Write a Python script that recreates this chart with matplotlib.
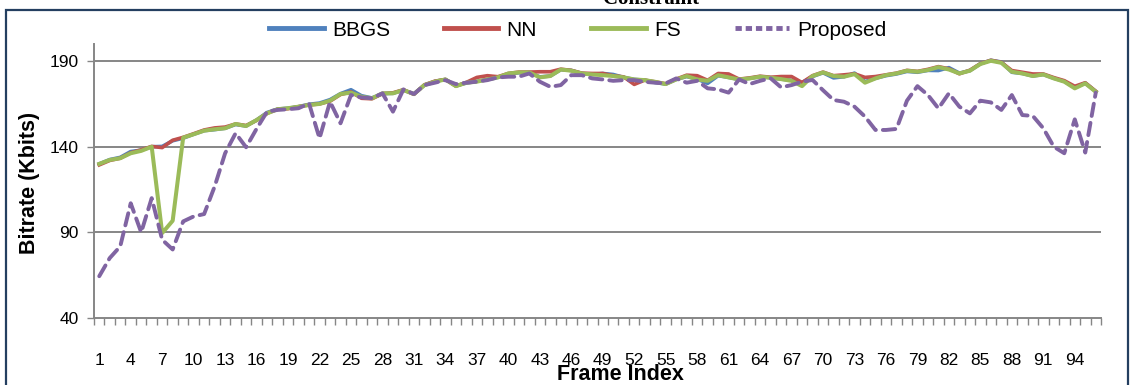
import matplotlib
matplotlib.use("Agg")
import matplotlib.pyplot as plt
from matplotlib.patches import Rectangle
from matplotlib.lines import Line2D
import numpy as np

frames = list(range(1, 97))

fs = [130, 132.3, 133.3, 136.2, 137.6, 140, 89.6, 96.8, 145.3, 147.3,
      149.4, 150.2, 150.8, 153.3, 152.1, 155.6, 159.5, 161.9, 162.5, 163.4,
      164.4, 165, 166.9, 170.8, 171.6, 169.2, 168.3, 171.2, 171.2, 173.1,
      170.8, 176, 178, 179.3, 175.4, 177.4, 178, 179.3, 180.5, 182.8,
      183.4, 183.4, 180.5, 181.3, 185.1, 184.4, 182.8, 182.2, 181.8, 181.3,
      180.5, 179.3, 178.9, 177.9, 176.6, 179.3, 181.3, 179.3, 178.5, 181.8,
      180.5, 179.3, 179.9, 180.9, 180.3, 179.5, 178.5, 175.4, 181.3, 183.4,
      181.3, 180.9, 182.4, 177.4, 179.9, 181.8, 182.8, 184.4, 183.8, 184.8,
      186.5, 185.1, 182.8, 184.4, 188.3, 190.2, 189, 183.8, 182.8, 181.3,
      182.2, 179.9, 178, 174.1, 177, 172.1]

bbgs = [130, 132.5, 133.8, 137.2, 138, 140, 140.2, 143.5, 145, 147.3,
        149.4, 150, 150.8, 153, 152.1, 155.6, 160, 162, 162.5, 163.4,
        164.8, 165.5, 167.5, 171, 173.3, 169.8, 168.5, 171, 171.2, 173.1,
        170.8, 176, 178.2, 179.3, 175.6, 177.2, 178.2, 179.3, 180.5, 182.5,
        183.2, 183.4, 180.8, 181.3, 185, 184.6, 182.8, 182.2, 182.8, 182.2,
        180.5, 179.3, 178.9, 177.5, 176.6, 179.3, 181, 179.5, 177, 181.5,
        180.5, 179.3, 179.9, 180.9, 180.3, 179.5, 178.8, 177.5, 181, 183.2,
        180.2, 180.9, 183, 178, 180, 181.5, 182.5, 184, 183.5, 184.6,
        184.5, 186.2, 183, 184.4, 188.5, 190.5, 189.5, 183.5, 182.8, 181.3,
        182.2, 180, 178.2, 174.5, 177.2, 172.3]

nn = [129.4, 132, 133.3, 136.5, 138.2, 140.2, 139.5, 143.8, 145.5, 147.6,
      149.8, 151, 151.5, 153.3, 152.4, 155.4, 159.5, 161.9, 162.2, 163.4,
      164.4, 165, 166.6, 170.5, 172, 168.3, 168, 171, 171.5, 173.3,
      170.6, 176.2, 178.3, 179.3, 175.4, 177.6, 180.5, 181.5, 180.9, 182.8,
      183.6, 183.6, 183.8, 183.8, 185.3, 184.6, 183, 182.8, 182.8, 181.5,
      180.8, 176.4, 178.9, 177.9, 176.8, 179.5, 181.8, 181.5, 178.8, 182.8,
      182.5, 179.5, 180.2, 181.2, 180.6, 181, 181, 177.5, 181.5, 183.6,
      181.5, 182, 182.6, 180.5, 181, 182, 183, 184.6, 184, 185.2,
      186.8, 185.5, 182.6, 184.7, 188.5, 190.5, 189.3, 184.5, 183.5, 182.5,
      182.5, 180.4, 178.6, 175.3, 177.4, 172.4]

proposed = [64.4, 75, 81.8, 107, 90, 110, 85.7, 80, 96.4, 99.3,
            100.7, 116.8, 136.2, 147.9, 139.7, 150.5, 160.5, 161.5, 161.9, 162.5,
            165.3, 144.9, 166.3, 153.7, 170.2, 168.8, 168.3, 171.2, 160.5, 173.5,
            170.8, 176, 177.4, 178.9, 176.6, 177.4, 178, 178.9, 180.5, 180.9,
            180.9, 182.8, 178, 175, 176, 181.8, 181.8, 179.9, 179.3, 178.5,
            178.9, 178.9, 177.9, 177.4, 177, 179.9, 177.4, 178.5, 174.1, 173.5,
            171.6, 179.3, 176.6, 178.5, 180, 174.7, 176, 178, 179, 173,
            167.3, 166.3, 163.4, 157.6, 149.8, 149.8, 150.4, 166.9, 175.4, 170.2,
            162.4, 171.2, 163.4, 159.5, 166.9, 165.9, 161.5, 170.2, 158.5, 158,
            150.8, 140, 136.2, 156, 136.6, 171.6]

series_names = ["BBGS", "NN", "FS", "Proposed"]
series_colors = ["#4F81BD", "#C0504D", "#9BBB59", "#8064A2"]
yticks = [40, 90, 140, 190]
xtick_labels = list(range(1, 95, 3))

FAM = ['Liberation Sans Narrow', 'Liberation Sans', 'DejaVu Sans']
plt.rcParams['font.family'] = FAM

W, H = 1134, 385
fig = plt.figure(figsize=(W / 100, H / 100), dpi=100)
fig.patch.set_facecolor("white")

# outer chart frame
fig.patches.append(Rectangle((6 / W, -0.1), 1122 / W, 1.1 - 10 / H, transform=fig.transFigure,
                             fill=False, edgecolor="#243F60", linewidth=1.6, zorder=0))

# cropped title (only its lower part is visible in the reference)
fig.text(651 / W, 1 + 1 / H, "Constraint", ha="center", va="center",
         fontsize=15, fontweight="bold", family=["Liberation Serif", "DejaVu Serif"])

ax = fig.add_axes([94 / W, 1 - 318 / H, (1101 - 94) / W, (318 - 44) / H])
ax.set_facecolor("white")

lw = 2.6
ax.plot(frames, bbgs, color=series_colors[0], lw=lw, zorder=3, solid_joinstyle="round")
ax.plot(frames, nn, color=series_colors[1], lw=lw, zorder=4, solid_joinstyle="round")
ax.plot(frames, fs, color=series_colors[2], lw=lw + 0.3, zorder=5, solid_joinstyle="round")
ax.plot(frames, proposed, color=series_colors[3], lw=2.8, zorder=6,
        dashes=(3.2, 1.8), dash_capstyle="round")

ax.set_xlim(0.5, 96.5)
ax.set_ylim(40, 200)
ax.set_yticks(yticks)
ax.set_xticks(xtick_labels)
ax.set_xticklabels([str(v) for v in xtick_labels])
ax.set_xticks(np.arange(0.5, 97, 1.0), minor=True)
ax.tick_params(axis="x", which="major", length=0, pad=25, labelsize=12.5, colors="black")
ax.tick_params(axis="x", which="minor", length=5, width=1, color="#868686", direction="out")
ax.tick_params(axis="y", length=5, width=1, color="#868686", labelsize=12.5, pad=6)

for y in yticks[1:]:
    ax.axhline(y, color="#868686", lw=1.4, zorder=1)

for s in ["top", "right"]:
    ax.spines[s].set_visible(False)
for s in ["left", "bottom"]:
    ax.spines[s].set_color("#868686")
    ax.spines[s].set_linewidth(1.4)

fig.text(30 / W, 1 - 183 / H, "Bitrate (Kbits)", rotation=90, ha="center", va="center",
         fontsize=15.5, fontweight="bold", family=FAM)
fig.text(620 / W, 1 - 374 / H, "Frame Index", ha="center", va="center",
         fontsize=15.5, fontweight="bold", family=FAM)

handles = [Line2D([], [], color=series_colors[0], lw=3.5),
           Line2D([], [], color=series_colors[1], lw=3.5),
           Line2D([], [], color=series_colors[2], lw=3.5),
           Line2D([], [], color=series_colors[3], lw=3.5, dashes=(1.3, 0.8))]
fig.legend(handles, series_names, loc="center", bbox_to_anchor=(578 / W, 1 - 30 / H),
           ncol=4, frameon=False, fontsize=15, handlelength=2.6, handletextpad=0.4,
           columnspacing=2.6)

fig.savefig("out.png", dpi=100)
